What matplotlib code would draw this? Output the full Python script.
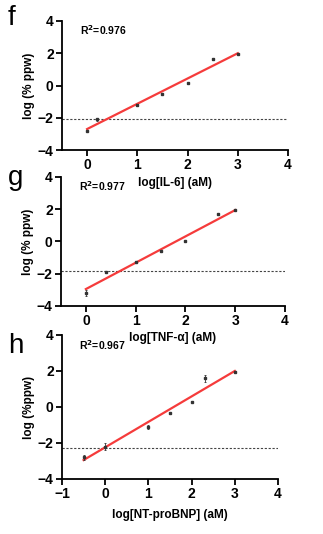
import matplotlib
matplotlib.use("Agg")
import matplotlib.pyplot as plt
import numpy as np

plt.rcParams['font.family'] = ['Liberation Sans', 'DejaVu Sans']

# Panel f (IL-6)
f_x = [0, 0.2, 1, 1.5, 2, 2.5, 3]
f_y = [-2.8, -2.1, -1.2, -0.5, 0.15, 1.65, 1.95]
f_err = [0.05, 0.08, 0.05, 0.05, 0.03, 0.08, 0.03]
f_fit = (1.567, -2.7)
f_lod = -2.05
f_r2 = "0.976"

# Panel g (TNF-a)
g_x = [0, 0.4, 1, 1.5, 2, 2.65, 3]
g_y = [-3.2, -1.9, -1.25, -0.6, 0.0, 1.7, 1.95]
g_err = [0.18, 0.05, 0.03, 0.04, 0.03, 0.06, 0.03]
g_fit = (1.633, -2.95)
g_lod = -1.85
g_r2 = "0.977"

# Panel h (NT-proBNP)
h_x = [-0.5, 0, 1, 1.5, 2, 2.3, 3]
h_y = [-2.8, -2.2, -1.1, -0.35, 0.3, 1.6, 1.95]
h_err = [0.15, 0.18, 0.1, 0.04, 0.03, 0.2, 0.03]
h_fit = (1.414, -2.24)
h_lod = -2.25
h_r2 = "0.967"

W, H = 323, 534
fig = plt.figure(figsize=(W/100, H/100), dpi=100)

def make_ax(l, r, t, b):
    return fig.add_axes([l/W, 1-b/H, (r-l)/W, (b-t)/H])

panels = [
    dict(rect=(62, 288, 21, 150), x=f_x, y=f_y, e=f_err, fit=f_fit, lod=f_lod, r2=f_r2,
         xlim=(-0.5, 4), xticks=[0, 1, 2, 3, 4], xfit=(0, 3),
         xlabel="log[IL-6] (aM)", ylabel="log (% ppw)", letter="f", ly=18, xl_y=183),
    dict(rect=(61, 285, 177, 306), x=g_x, y=g_y, e=g_err, fit=g_fit, lod=g_lod, r2=g_r2,
         xlim=(-0.5, 4), xticks=[0, 1, 2, 3, 4], xfit=(0, 3),
         xlabel="log[TNF-α] (aM)", ylabel="log (% ppw)", letter="g", ly=178, xl_y=338),
    dict(rect=(62, 278, 335, 479), x=h_x, y=h_y, e=h_err, fit=h_fit, lod=h_lod, r2=h_r2,
         xlim=(-1, 4), xticks=[-1, 0, 1, 2, 3, 4], xfit=(-0.5, 3),
         xlabel="log[NT-proBNP] (aM)", ylabel="log (%ppw)", letter="h", ly=346, xl_y=515),
]

for p in panels:
    l, r, t, b = p['rect']
    ax = make_ax(l, r, t, b)
    ax.errorbar(p['x'], p['y'], yerr=p['e'], fmt='s', ms=1.6, color='#333333',
                elinewidth=0.6, capsize=1.0, capthick=0.6, zorder=3)
    xf = np.array(p['xfit'])
    ax.plot(xf, p['fit'][0]*xf + p['fit'][1], color='#f53b3b', lw=1.6, zorder=2)
    ax.axhline(p['lod'], color='#444444', lw=0.8, ls=(0, (2, 1.5)), zorder=1)
    ax.set_xlim(*p['xlim'])
    ax.set_ylim(-4, 4)
    ax.set_xticks(p['xticks'])
    ax.set_yticks([-4, -2, 0, 2, 4])
    for s in ['top', 'right']:
        ax.spines[s].set_visible(False)
    for s in ['left', 'bottom']:
        ax.spines[s].set_linewidth(1.3)
    ax.tick_params(width=1.3, length=4, labelsize=10, pad=2)
    for lab in ax.get_xticklabels() + ax.get_yticklabels():
        lab.set_fontweight('bold')
    ax.set_ylabel(p['ylabel'], fontsize=8.5, fontweight='bold', labelpad=2)
    ax.text(0.08, 0.93, f"R$^\\mathbf{{2}}$={p['r2']}", transform=ax.transAxes,
            fontsize=7.5, fontweight='bold', va='center', ha='left')
    fig.text((l+r)/2/W, 1-p['xl_y']/H, p['xlabel'], fontsize=8.5, fontweight='bold',
             ha='center', va='center')
    fig.text(8/W, 1-p['ly']/H, p['letter'], fontsize=20, ha='left', va='center')

fig.savefig("out.png", dpi=100)
